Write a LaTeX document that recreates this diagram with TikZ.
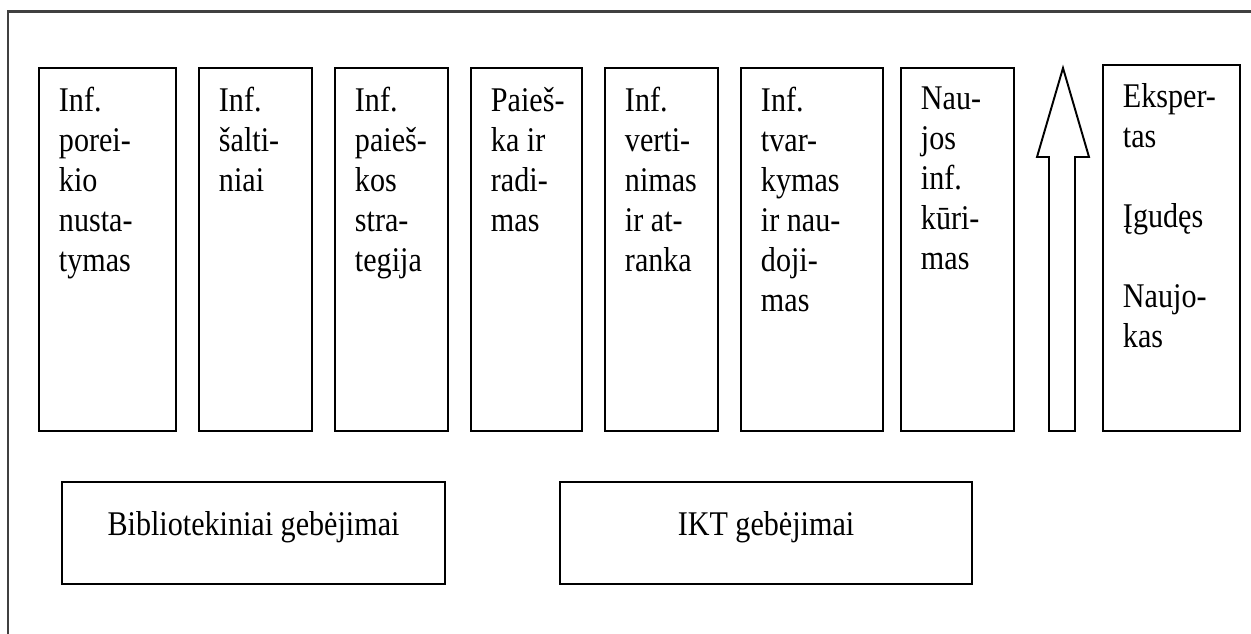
\documentclass[tikz,border=0pt]{standalone}
\usepackage{fontspec}
\setmainfont{Liberation Serif}[FakeStretch=0.87]
\usetikzlibrary{positioning}

\begin{document}
\begin{tikzpicture}[x=0.02cm, y=-0.02cm, line width=1.1pt,
        font=\fontsize{19.7}{22.76}\selectfont,
        coltext/.style={anchor=north west, inner sep=0pt, align=left},
        skillbox/.style={draw, minimum height=2.04cm, text height=0.683em, text depth=0.45em}]
    \useasboundingbox (0,0) rectangle (1251,633);
    \clip (0,0) rectangle (1251,633);

    % outer frame, cut by the page on the right and at the bottom
    \draw[line width=1.3pt, black!75] (8,11.5) rectangle (1300,700);

    % columns of skills
    \foreach \n/\xa/\xb/\ya/\txt in {
            1/39/176/68/{Inf.\\porei-\\kio\\nusta-\\tymas},
            2/199/312/68/{Inf.\\šalti-\\niai},
            3/335/448/68/{Inf.\\paieš-\\kos\\stra-\\tegija},
            4/471/582/68/{Paieš-\\ka ir\\radi-\\mas},
            5/605/718/68/{Inf.\\verti-\\nimas\\ir at-\\ranka},
            6/741/883/68/{Inf.\\tvar-\\kymas\\ir nau-\\doji-\\mas},
            7/901/1014/68/{Nau-\\jos\\inf.\\kūri-\\mas},
            9/1103/1240/65/{Eksper-\\tas\\~\\Įgudęs\\~\\Naujo-\\kas}}
        {
        \draw (\xa,\ya) rectangle (\xb,431);
        \node[coltext] (col\n) at (\xa+19,\ya+18) {\txt};
        }

    % hollow arrow from beginner up to expert
    \draw[line join=miter] (1063,68) -- (1089,157) -- (1075,157) -- (1075,431)
        -- (1049,431) -- (1049,157) -- (1037,157) -- cycle;

    % skill groups
    \node[skillbox, minimum width=7.66cm] (lib) at (253.5,533) {Bibliotekiniai gebėjimai};
    \node[skillbox, minimum width=8.24cm] (ikt) at (766,533) {IKT gebėjimai};
\end{tikzpicture}
\end{document}
